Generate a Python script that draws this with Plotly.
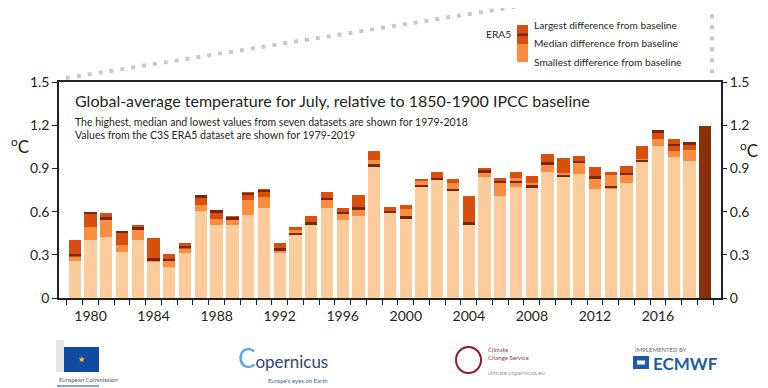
import plotly.graph_objects as go

# ---------------- data ----------------
years = list(range(1979, 2019))
lowest = [0.26, 0.404, 0.424, 0.32, 0.404, 0.25, 0.217, 0.31, 0.607, 0.505,
          0.505, 0.575, 0.623, 0.316, 0.436, 0.512, 0.625, 0.542, 0.57, 0.911,
          0.589, 0.551, 0.769, 0.821, 0.741, 0.508, 0.842, 0.711, 0.773, 0.764,
          0.875, 0.838, 0.858, 0.755, 0.759, 0.801, 0.942, 1.055, 0.979, 0.951]
median = [0.285, 0.49, 0.544, 0.367, 0.473, 0.277, 0.254, 0.34, 0.644, 0.551,
          0.542, 0.681, 0.704, 0.33, 0.473, 0.52, 0.681, 0.584, 0.616, 0.958,
          0.605, 0.621, 0.815, 0.83, 0.796, 0.526, 0.87, 0.796, 0.831, 0.796,
          0.94, 0.865, 0.935, 0.828, 0.854, 0.856, 0.967, 1.103, 1.018, 1.027]
highest = [0.404, 0.595, 0.588, 0.466, 0.508, 0.42, 0.305, 0.38, 0.713, 0.607,
           0.568, 0.734, 0.757, 0.385, 0.496, 0.57, 0.738, 0.625, 0.715, 1.018,
           0.634, 0.648, 0.828, 0.872, 0.824, 0.711, 0.902, 0.833, 0.877, 0.845,
           1.002, 0.969, 0.988, 0.907, 0.877, 0.916, 1.057, 1.17, 1.105, 1.08]
era5_years = list(range(1979, 2020))
era5 = [0.298, 0.59, 0.553, 0.459, 0.482, 0.268, 0.265, 0.353, 0.704, 0.60,
        0.553, 0.721, 0.745, 0.338, 0.444, 0.518, 0.689, 0.591, 0.622, 0.921,
        0.598, 0.558, 0.776, 0.826, 0.749, 0.518, 0.877, 0.804, 0.804, 0.774,
        0.935, 0.849, 0.943, 0.837, 0.77, 0.863, 0.95, 1.156, 1.064, 1.073,
        1.195]
ytick_vals = [0, 0.3, 0.6, 0.9, 1.2, 1.5]
ytick_text = ["0", "0.3", "0.6", "0.9", "1.2", "1.5"]
xtick_years = [1980, 1984, 1988, 1992, 1996, 2000, 2004, 2008, 2012, 2016]
xtick_text = [str(y) for y in xtick_years]

# ---------------- style ----------------
PALE = "#fccc9d"
LIGHT = "#fb8d40"
DARK = "#d9500e"
LINE = "#76280a"
BAR2019 = "#8a300a"
TXT = "#231f20"
FONT = "Lato"
W = 0.78

OFF = 8  # page body margin
W_PX, H_PX = 768 - OFF, 388 - OFF
ML, MR, MT, MB = 59 - OFF, 47, 82 - OFF, 90
PW = W_PX - ML - MR
PH = H_PX - MT - MB


def px(x):  # x in screen pixels
    return (x - OFF - ML) / PW


def py(y):  # y in screen pixels
    return (H_PX - MB - (y - OFF)) / PH


fig = go.Figure()
fig.add_bar(x=years, y=lowest, base=0, width=W, marker=dict(color=PALE, line_width=0))
fig.add_bar(x=years, y=[m - l for m, l in zip(median, lowest)], base=lowest, width=W,
            marker=dict(color=LIGHT, line_width=0))
fig.add_bar(x=years, y=[h - m for h, m in zip(highest, median)], base=median, width=W,
            marker=dict(color=DARK, line_width=0))
fig.add_bar(x=era5_years[:-1], y=[0.017] * (len(era5) - 1),
            base=[v - 0.0085 for v in era5[:-1]], width=W,
            marker=dict(color=LINE, line_width=0))
fig.add_bar(x=era5_years[-1:], y=era5[-1:], base=0, width=W,
            marker=dict(color=BAR2019, line_width=0))
# invisible trace for right axis
fig.add_scatter(x=[1979], y=[0], yaxis="y2", mode="markers",
                marker=dict(opacity=0), hoverinfo="skip")

half_years = [y + 0.5 for y in range(1978, 2020)]

fig.update_layout(
    width=W_PX, height=H_PX,
    margin=dict(l=ML, r=MR, t=MT, b=MB, pad=0),
    paper_bgcolor="white", plot_bgcolor="white",
    barmode="overlay", bargap=0,
    showlegend=False,
    font=dict(family=FONT, color=TXT),
    xaxis=dict(range=[1978, 2020], tickmode="array", tickvals=xtick_years,
               ticktext=xtick_text, ticks="", showgrid=False, zeroline=False,
               showline=True, linecolor="#222", linewidth=1.5, mirror=True,
               tickfont=dict(size=14, color=TXT), ticklabelstandoff=4,
               minor=dict(tickvals=half_years, ticks="outside", ticklen=5,
                          tickcolor="#222", tickwidth=1, showgrid=False)),
    yaxis=dict(range=[0, 1.5], tickmode="array", tickvals=ytick_vals,
               ticktext=ytick_text, ticks="outside", ticklen=5, tickcolor="#222",
               showgrid=False, zeroline=False, showline=True, linecolor="#222",
               linewidth=1.5, mirror=True, tickfont=dict(size=14, color=TXT)),
    yaxis2=dict(range=[0, 1.5], overlaying="y", side="right", tickmode="array",
                tickvals=ytick_vals, ticktext=ytick_text, ticks="outside",
                ticklen=5, tickcolor="#222", showgrid=False, zeroline=False,
                showline=False, tickfont=dict(size=14, color=TXT)),
)

shapes = []
# grey dotted outline at top
shapes.append(dict(type="path", xref="paper", yref="paper",
                   path=f"M {px(66)},{py(78)} L {px(520)},{py(6)} L {px(712)},{py(6)} L {px(712)},{py(79)}",
                   line=dict(color="#c9c9c9", width=4, dash="4px,7px")))
# legend swatch
shapes += [
    dict(type="rect", xref="paper", yref="paper", x0=px(517), x1=px(528), y0=py(62), y1=py(44),
         fillcolor=LIGHT, line_width=0),
    dict(type="rect", xref="paper", yref="paper", x0=px(517), x1=px(528), y0=py(44), y1=py(25),
         fillcolor=DARK, line_width=0),
    dict(type="rect", xref="paper", yref="paper", x0=px(517), x1=px(528), y0=py(36), y1=py(33.5),
         fillcolor=LINE, line_width=0),
]
# simple logo hints
shapes += [
    dict(type="rect", xref="paper", yref="paper", x0=px(56), x1=px(64), y0=py(372), y1=py(340),
         fillcolor="#e6e6e6", line_width=0),
    dict(type="rect", xref="paper", yref="paper", x0=px(64), x1=px(99), y0=py(372), y1=py(347),
         fillcolor="#0f4ba0", line_width=0),
    dict(type="line", xref="paper", yref="paper", x0=px(57), x1=px(99), y0=py(386), y1=py(386),
         line=dict(color="#0f4ba0", width=1)),
    dict(type="circle", xref="paper", yref="paper", x0=px(456), x1=px(481), y0=py(373), y1=py(347),
         line=dict(color="#8e1b2c", width=2), fillcolor="rgba(0,0,0,0)"),
    dict(type="rect", xref="paper", yref="paper", x0=px(633), x1=px(649), y0=py(369), y1=py(356),
         fillcolor="#1f5aa6", line_width=0),
    dict(type="rect", xref="paper", yref="paper", x0=px(637), x1=px(645), y0=py(364.5), y1=py(360.5),
         fillcolor="white", line_width=0),
]
fig.update_layout(shapes=shapes)

ann = []


def add_text(x, y, text, size, color=TXT, xanchor="left", yanchor="middle"):
    ann.append(dict(x=px(x), y=py(y), xref="paper", yref="paper", text=text,
                    showarrow=False, xanchor=xanchor, yanchor=yanchor,
                    font=dict(size=size, color=color, family=FONT),
                    align="left"))


add_text(73, 101, "Global-average temperature for July, relative to 1850-1900 IPCC baseline", 16)
add_text(73, 122, "The highest, median and lowest values from seven datasets are shown for 1979-2018", 10.5)
add_text(73, 135, "Values from the C3S ERA5 dataset are shown for 1979-2019", 10.5)
add_text(20, 145, "<sup>o</sup>C", 17, xanchor="center")
add_text(749, 149, "<sup>o</sup>C", 17, xanchor="center")
add_text(532, 25, "Largest difference from baseline", 10.2)
add_text(532, 43, "Median difference from baseline", 10.2)
add_text(532, 62, "Smallest difference from baseline", 10.2)
add_text(513, 34, "ERA5", 10.2, xanchor="right")
# logos as text
add_text(81, 359, "★", 8, color="#ffd617", xanchor="center")
add_text(57, 379, "European Commission", 6, color="#555")
add_text(236, 358, "<span style='color:#5aa9e0;font-size:26px'>C</span>opernicus", 17, color="#2b4a73")
add_text(266, 380, "Europe's eyes on Earth", 6, color="#2b6aa8")
add_text(486, 353, "Climate<br>Change Service", 6, color="#a3324a")
add_text(486, 372, "climate.copernicus.eu", 6, color="#999")
add_text(633, 349, "IMPLEMENTED BY", 6, color="#666")
add_text(651, 363, "<b>ECMWF</b>", 17, color="#1f5aa6")
fig.update_layout(annotations=ann)

fig.write_html("out.html")
